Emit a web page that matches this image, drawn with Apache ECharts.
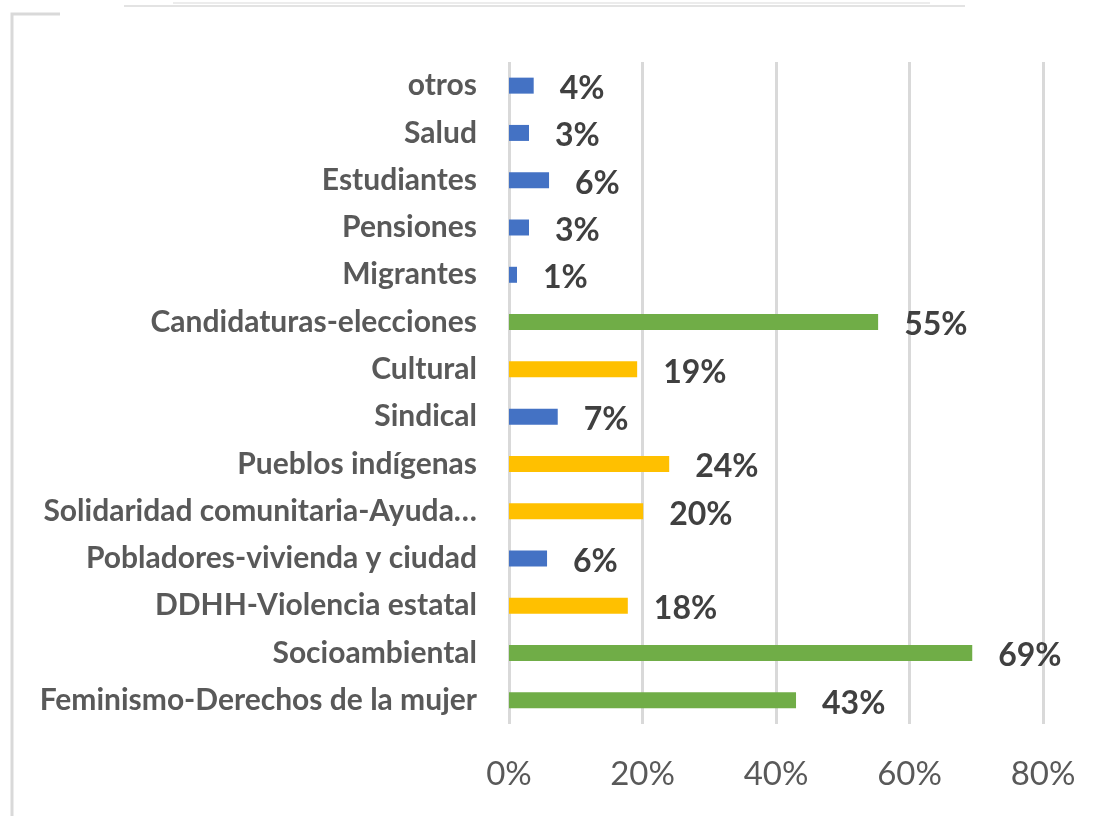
<!DOCTYPE html>
<html>
<head>
<meta charset="utf-8">
<script src="https://cdn.jsdelivr.net/npm/echarts@6/dist/echarts.min.js"></script>
<style>
html,body{margin:0;padding:0;background:#fff;}
#chart{width:1111px;height:816px;}
</style>
</head>
<body>
<div id="chart"></div>
<script>
// Categories top to bottom
const categories = [
  'otros','Salud','Estudiantes','Pensiones','Migrantes',
  'Candidaturas-elecciones','Cultural','Sindical','Pueblos indígenas',
  'Solidaridad comunitaria-Ayuda…','Pobladores-vivienda y ciudad',
  'DDHH-Violencia estatal','Socioambiental','Feminismo-Derechos de la mujer'
];
// Percent values (label shows rounded)
const values = [3.7, 3.0, 6.0, 3.0, 1.2, 55.3, 19.2, 7.3, 24.0, 20.1, 5.7, 17.8, 69.4, 43.0];
// Group of each bar (determines colour)
const groups = ['blue','blue','blue','blue','blue','green','yellow','blue','yellow','yellow','blue','yellow','green','green'];
const xTicks = [0, 20, 40, 60, 80];

const groupColors = {blue:'#4472C4', green:'#70AD47', yellow:'#FFC000'};
const FONT = 'Lato';

const chart = echarts.init(document.getElementById('chart'));
chart.setOption({
  backgroundColor:'#ffffff',
  animation:false,
  grid:{left:509, right:68, top:62, bottom:92, containLabel:false},
  xAxis:{
    type:'value', min:xTicks[0], max:xTicks[xTicks.length-1], interval:20,
    axisLine:{show:false}, axisTick:{show:false},
    splitLine:{show:true, lineStyle:{color:'#d9d9d9', width:3}},
    axisLabel:{formatter:v=>v+'%', color:'#595959', fontSize:33, fontFamily:FONT, margin:34}
  },
  yAxis:{
    type:'category', data:categories, inverse:true,
    axisLine:{show:false}, axisTick:{show:false},
    axisLabel:{color:'#595959', fontSize:30, fontWeight:'bold', fontFamily:FONT, margin:32}
  },
  series:[{
    type:'bar',
    data:values.map((v,i)=>({value:v, itemStyle:{color:groupColors[groups[i]]}})),
    barWidth:16,
    label:{show:true, position:'right', distance:26, offset:[0,3], formatter:p=>Math.round(p.value)+'%',
      color:'#404040', fontSize:32, fontWeight:'bold', fontFamily:FONT}
  }],
  graphic:[
    {type:'polyline', shape:{points:[[12,816],[12,14],[60,14]]}, style:{stroke:'#d9d9d9', lineWidth:3, fill:null}},
    {type:'line', shape:{x1:124,y1:6,x2:965,y2:6}, style:{stroke:'#e3e3e3', lineWidth:2}},
    {type:'line', shape:{x1:173,y1:3,x2:930,y2:3}, style:{stroke:'#ececec', lineWidth:2}}
  ]
});
</script>
</body>
</html>
